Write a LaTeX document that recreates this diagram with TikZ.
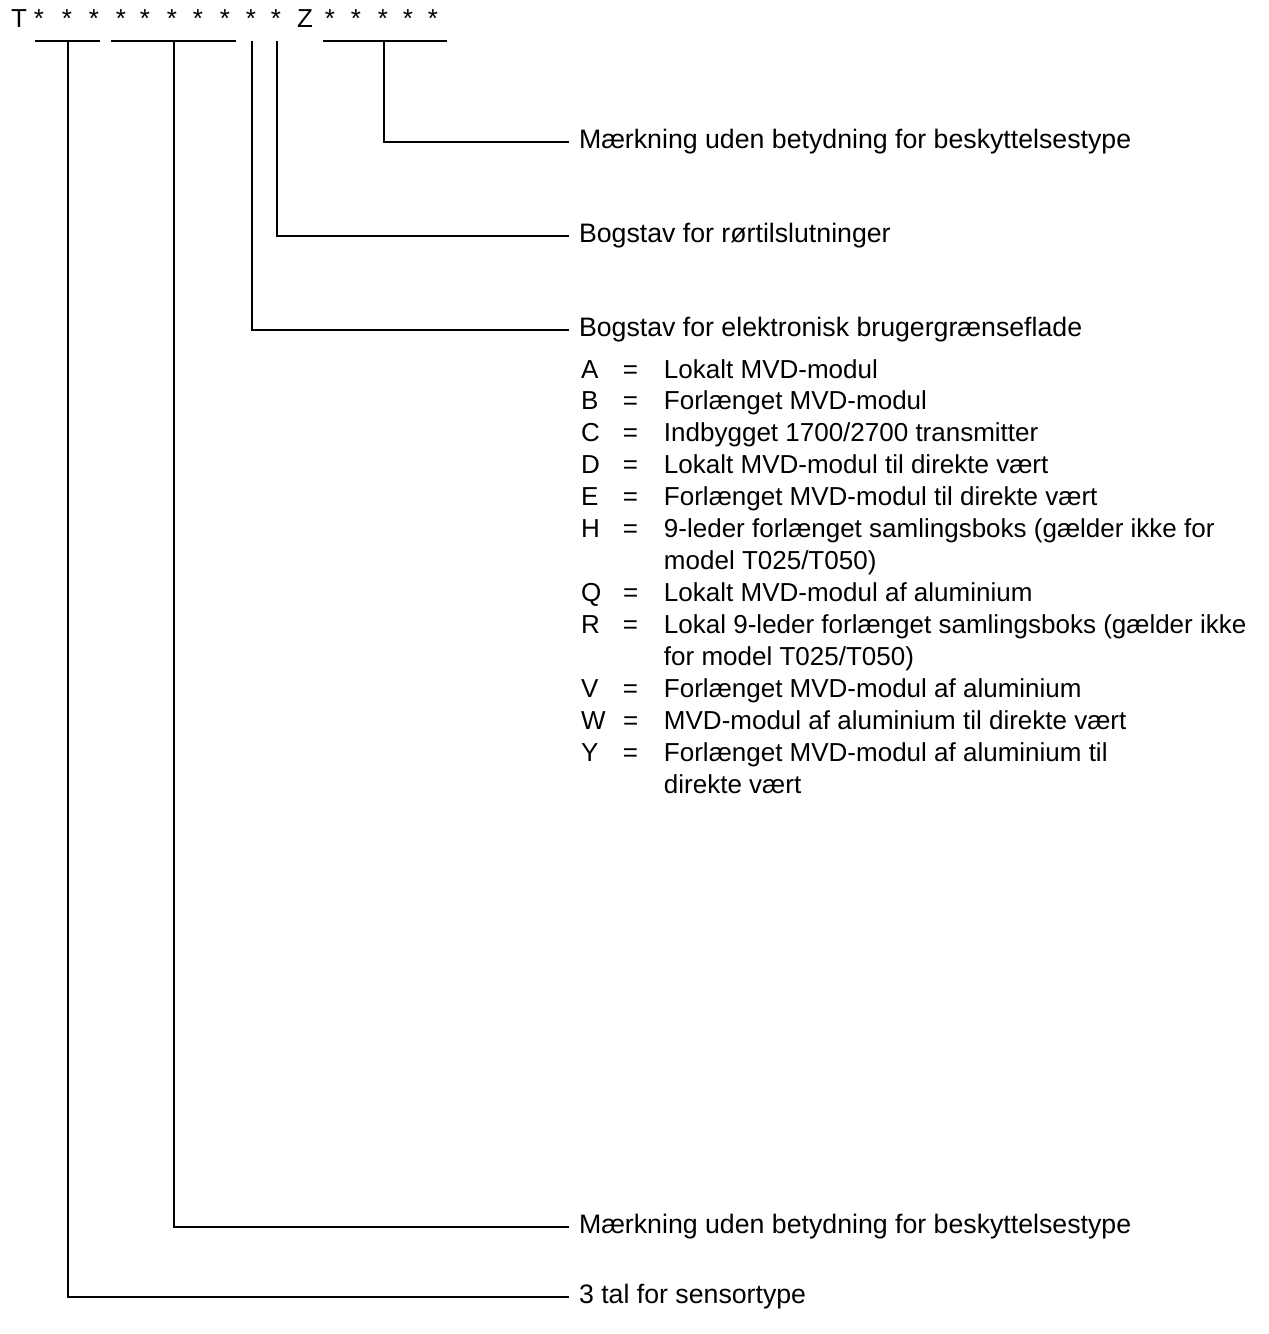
\documentclass[tikz,border=0pt]{standalone}
\usepackage{fontspec}
\setmainfont{Liberation Sans}
\usetikzlibrary{positioning}

\begin{document}
\begin{tikzpicture}[x=0.02cm, y=-0.02cm, line width=0.04cm,
    every node/.style={font=\fontsize{14.8}{18.2}\selectfont},
    chr/.style={anchor=base, inner sep=0pt},
    lbl/.style={anchor=west, inner xsep=0.18cm, inner ysep=0pt, text height=0.72em, text depth=0pt,
        font=\fontsize{15.2}{18.2}\selectfont}]
    \useasboundingbox (0,0) rectangle (1268,1334);

    % type code
    \node[chr] (t) at (19,28) {T};
    \foreach \x [count=\i] in {39,67,94,121,145,172,198,225,251,276}
        \node[chr] (s\i) at (\x,28) {*};
    \node[chr] (z) at (305,28) {Z};
    \foreach \x [count=\i] in {330,356,383,408,433}
        \node[chr] (e\i) at (\x,28) {*};

    % groups
    \draw (35,41) -- (100,41);
    \draw (111,41) -- (236,41);
    \draw (323,41) -- (447,41);
    \coordinate (c1) at (68,41);
    \coordinate (c2) at (174,41);
    \coordinate (c3) at (252,41);
    \coordinate (c4) at (277,41);
    \coordinate (c5) at (384,41);

    % labels
    \node[lbl] (l5) at (569,142) {Mærkning uden betydning for beskyttelsestype};
    \node[lbl] (l4) at (569,236) {Bogstav for rørtilslutninger};
    \node[lbl] (l3) at (569,330) {Bogstav for elektronisk brugergrænseflade};
    \node[lbl] (l2) at (569,1227) {Mærkning uden betydning for beskyttelsestype};
    \node[lbl] (l1) at (569,1297) {3 tal for sensortype};

    \node[anchor=base west, inner sep=0pt] (koder) at (580,378) {%
        \begin{tabular}[t]{@{}p{0.84cm}@{}p{0.82cm}@{}l@{}}
        A & = & Lokalt MVD-modul\\
        B & = & Forlænget MVD-modul\\
        C & = & Indbygget 1700/2700 transmitter\\
        D & = & Lokalt MVD-modul til direkte vært\\
        E & = & Forlænget MVD-modul til direkte vært\\
        H & = & 9-leder forlænget samlingsboks (gælder ikke for\\
          &   & model T025/T050)\\
        Q & = & Lokalt MVD-modul af aluminium\\
        R & = & Lokal 9-leder forlænget samlingsboks (gælder ikke\\
          &   & for model T025/T050)\\
        V & = & Forlænget MVD-modul af aluminium\\
        W & = & MVD-modul af aluminium til direkte vært\\
        Y & = & Forlænget MVD-modul af aluminium til\\
          &   & direkte vært
        \end{tabular}};

    \draw (c1) |- (l1.west);
    \draw (c2) |- (l2.west);
    \draw (c3) |- (l3.west);
    \draw (c4) |- (l4.west);
    \draw (c5) |- (l5.west);
\end{tikzpicture}
\end{document}
